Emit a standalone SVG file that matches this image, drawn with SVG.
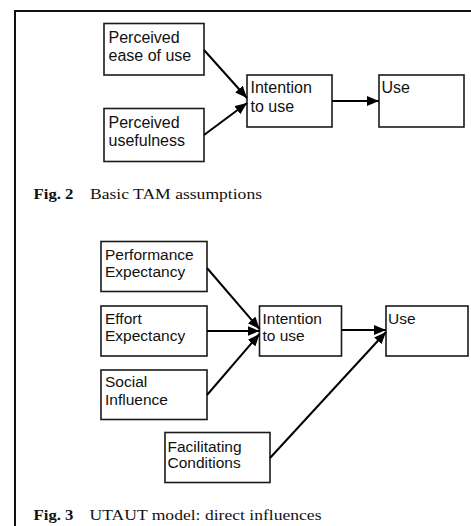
<svg xmlns="http://www.w3.org/2000/svg" width="471" height="526" viewBox="0 0 471 526">
  <style>
    .box { fill: #fff; stroke: #1a1a1a; stroke-width: 1.6; }
    .lbl { font-family: "Liberation Sans", Arial, sans-serif; font-size: 16px; fill: #111; }
    .lbl3 { font-family: "Liberation Sans", Arial, sans-serif; font-size: 15.5px; fill: #111; }
    .edge { stroke: #000; stroke-width: 2; fill: none; marker-end: url(#head); }
    .cap { font-family: "Liberation Serif", "Times New Roman", serif; font-size: 15px; fill: #111; }
    .capb { font-weight: bold; }
    .frame { fill: none; stroke: #111; stroke-width: 2; }
  </style>
  <defs>
    <marker id="head" markerUnits="userSpaceOnUse" markerWidth="13" markerHeight="11" refX="12" refY="5" orient="auto">
      <path d="M0,0 L12,5 L0,10 Z" fill="#000"/>
    </marker>
  </defs>

  <rect width="471" height="526" fill="#fff"/>
  <!-- page frame -->
  <path class="frame" d="M15,540 L15,11 L480,11"/>

  <!-- Fig. 2: TAM -->
  <g id="tam-ease">
    <rect class="box" x="104" y="23.5" width="100" height="51.5"/>
    <text class="lbl" x="108.5" y="42.5">Perceived</text>
    <text class="lbl" x="108.5" y="60.5">ease of use</text>
  </g>
  <g id="tam-usefulness">
    <rect class="box" x="104" y="108.5" width="100" height="53"/>
    <text class="lbl" x="108.5" y="127.5">Perceived</text>
    <text class="lbl" x="108.5" y="145.5">usefulness</text>
  </g>
  <g id="tam-intention">
    <rect class="box" x="247" y="75" width="85" height="52"/>
    <text class="lbl" x="250.5" y="93">Intention</text>
    <text class="lbl" x="250.5" y="111.5">to use</text>
  </g>
  <g id="tam-use">
    <rect class="box" x="379" y="75" width="85" height="52"/>
    <text class="lbl" x="381.5" y="93">Use</text>
  </g>
  <g id="tam-connectors">
    <line class="edge" x1="204" y1="50" x2="247" y2="98"/>
    <line class="edge" x1="204" y1="135" x2="247" y2="103"/>
    <line class="edge" x1="332" y1="101" x2="379" y2="101"/>
  </g>
  <text class="cap" y="199"><tspan class="capb" x="33.5" textLength="40" lengthAdjust="spacingAndGlyphs">Fig. 2</tspan><tspan x="90" textLength="172" lengthAdjust="spacingAndGlyphs">Basic TAM assumptions</tspan></text>

  <!-- Fig. 3: UTAUT -->
  <g id="ut-performance">
    <rect class="box" x="101" y="241.5" width="106" height="50"/>
    <text class="lbl3" x="105" y="259.5">Performance</text>
    <text class="lbl3" x="105" y="277">Expectancy</text>
  </g>
  <g id="ut-effort">
    <rect class="box" x="101" y="306" width="106" height="50"/>
    <text class="lbl3" x="105" y="323.5">Effort</text>
    <text class="lbl3" x="105" y="341">Expectancy</text>
  </g>
  <g id="ut-social">
    <rect class="box" x="101" y="370" width="106" height="49.5"/>
    <text class="lbl3" x="105" y="387">Social</text>
    <text class="lbl3" x="105" y="404.5">Influence</text>
  </g>
  <g id="ut-facilitating">
    <rect class="box" x="165" y="432.5" width="105" height="50"/>
    <text class="lbl3" x="167.5" y="451.5">Facilitating</text>
    <text class="lbl3" x="167.5" y="467.5">Conditions</text>
  </g>
  <g id="ut-intention">
    <rect class="box" x="259.5" y="306" width="82" height="50"/>
    <text class="lbl3" x="262.5" y="323.5">Intention</text>
    <text class="lbl3" x="262.5" y="340.5">to use</text>
  </g>
  <g id="ut-use">
    <rect class="box" x="386" y="306" width="82" height="50"/>
    <text class="lbl3" x="388" y="323.5">Use</text>
  </g>
  <g id="ut-connectors">
    <line class="edge" x1="207" y1="268" x2="259.5" y2="329"/>
    <line class="edge" x1="207" y1="331" x2="259.5" y2="331"/>
    <line class="edge" x1="207" y1="395" x2="259.5" y2="334"/>
    <line class="edge" x1="341.5" y1="330" x2="386" y2="330"/>
    <line class="edge" x1="270" y1="458" x2="386" y2="332"/>
  </g>
  <text class="cap" y="520"><tspan class="capb" x="33.5" textLength="40" lengthAdjust="spacingAndGlyphs">Fig. 3</tspan><tspan x="89.5" textLength="232" lengthAdjust="spacingAndGlyphs">UTAUT model: direct influences</tspan></text>
</svg>
